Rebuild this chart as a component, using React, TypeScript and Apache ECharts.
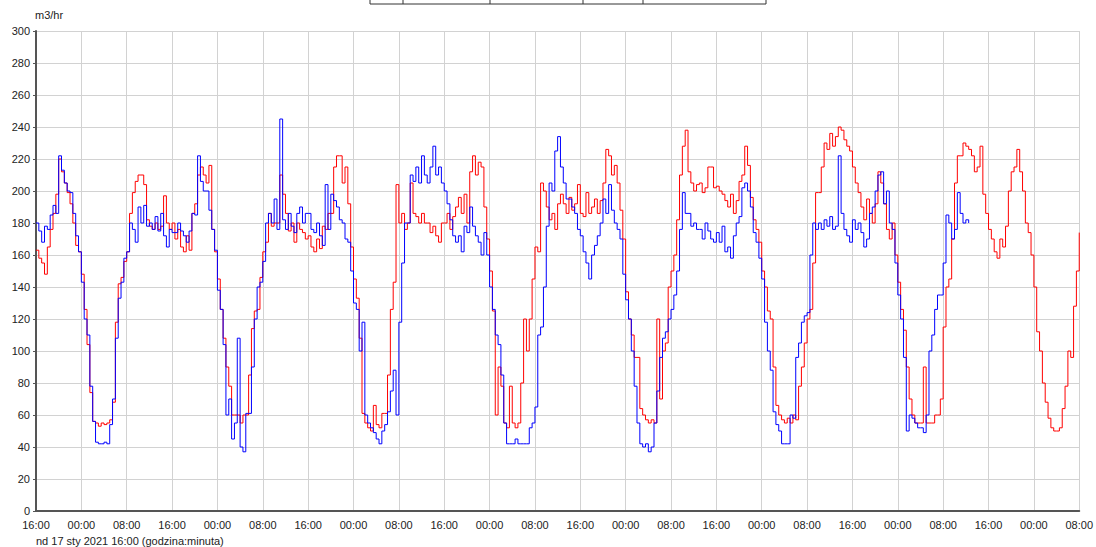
import { useEffect, useRef } from "react";
import * as echarts from "echarts";

// hours from Sun 17 Jan 2021 16:00, one value every 30 minutes
const STEP_HOURS = 0.5;
const X_MAX_HOURS = 184;
const X_TICK_HOURS = 8;

const xTickLabels = [
  "16:00", "00:00", "08:00", "16:00", "00:00", "08:00", "16:00", "00:00",
  "08:00", "16:00", "00:00", "08:00", "16:00", "00:00", "08:00", "16:00",
  "00:00", "08:00", "16:00", "00:00", "08:00", "16:00", "00:00", "08:00",
];

const yMin = 0;
const yMax = 300;
const yInterval = 20;
const yUnit = "m3/hr";
const xTitle = "nd 17 sty 2021 16:00 (godzina:minuta)";

// blue series (m3/hr), ends around 08:30 on the last day
const blueValues = [
  180, 175, 168, 178, 176, 185, 191, 186, 222, 213, 205, 200, 199, 186, 172, 162,
  143, 120, 110, 78, 56, 43, 42, 42, 43, 42, 54, 70, 108, 133, 143, 158,
  162, 180, 176, 168, 190, 180, 191, 178, 180, 176, 184, 175, 186, 172, 165, 176,
  174, 174, 180, 175, 172, 168, 175, 186, 185, 222, 206, 200, 200, 188, 176, 163,
  138, 126, 104, 60, 70, 45, 55, 108, 40, 37, 61, 61, 90, 120, 140, 143,
  156, 180, 186, 180, 195, 176, 245, 182, 176, 186, 178, 174, 186, 190, 180, 186,
  186, 176, 174, 180, 172, 166, 204, 176, 198, 194, 190, 182, 180, 170, 168, 150,
  130, 126, 100, 118, 60, 55, 52, 49, 45, 42, 50, 54, 62, 75, 88, 60,
  118, 155, 180, 180, 210, 206, 215, 205, 222, 210, 205, 215, 228, 210, 215, 205,
  200, 192, 182, 172, 168, 172, 162, 178, 174, 190, 178, 172, 168, 160, 174, 160,
  140, 126, 110, 104, 85, 55, 42, 42, 42, 45, 42, 42, 42, 42, 52, 55,
  65, 110, 115, 140, 178, 205, 200, 225, 234, 215, 205, 195, 195, 190, 186, 176,
  172, 162, 155, 145, 160, 166, 172, 180, 195, 186, 204, 188, 180, 176, 170, 148,
  132, 120, 100, 78, 55, 42, 40, 42, 37, 40, 55, 75, 96, 108, 112, 120,
  126, 135, 150, 176, 199, 186, 186, 178, 180, 176, 176, 170, 180, 175, 170, 168,
  174, 168, 178, 162, 165, 158, 172, 180, 184, 202, 205, 200, 190, 174, 168, 158,
  145, 118, 100, 88, 62, 54, 50, 42, 42, 42, 60, 58, 96, 105, 118, 122,
  124, 160, 180, 176, 180, 176, 182, 178, 184, 176, 178, 222, 186, 176, 172, 168,
  182, 176, 180, 174, 165, 170, 186, 190, 200, 210, 212, 192, 200, 180, 176, 155,
  135, 120, 96, 50, 60, 58, 55, 52, 52, 49, 60, 100, 110, 126, 135, 135,
  155, 185, 180, 170, 176, 199, 186, 180, 182, 180,
];

// red series (m3/hr)
const redValues = [
  163, 158, 155, 148, 165, 176, 186, 198, 220, 212, 205, 199, 192, 180, 166, 162,
  148, 126, 104, 74, 56, 55, 53, 55, 54, 55, 57, 68, 118, 142, 146, 156,
  162, 186, 199, 206, 210, 210, 204, 182, 178, 176, 180, 176, 178, 197, 180, 176,
  180, 170, 176, 165, 162, 172, 163, 186, 192, 210, 215, 210, 205, 216, 176, 162,
  145, 126, 108, 90, 78, 60, 60, 60, 55, 60, 60, 85, 114, 125, 126, 146,
  162, 168, 186, 178, 180, 180, 210, 198, 186, 175, 180, 168, 180, 176, 174, 170,
  172, 165, 162, 170, 164, 178, 176, 186, 186, 215, 222, 222, 205, 215, 192, 165,
  145, 133, 108, 61, 55, 52, 50, 66, 54, 52, 61, 61, 85, 126, 143, 204,
  180, 186, 176, 180, 205, 186, 184, 180, 186, 180, 180, 174, 178, 172, 168, 180,
  180, 186, 176, 184, 190, 196, 186, 198, 180, 212, 222, 210, 218, 215, 190, 170,
  150, 125, 60, 90, 78, 55, 52, 78, 55, 52, 55, 80, 120, 100, 120, 145,
  165, 162, 205, 200, 190, 182, 186, 176, 192, 198, 192, 186, 196, 188, 192, 204,
  186, 184, 199, 186, 190, 195, 186, 194, 205, 226, 222, 210, 216, 205, 188, 170,
  137, 120, 110, 96, 96, 64, 60, 57, 55, 57, 55, 120, 70, 100, 105, 140,
  150, 160, 182, 210, 228, 238, 212, 205, 200, 204, 205, 199, 202, 215, 215, 202,
  203, 200, 198, 194, 190, 198, 186, 194, 206, 210, 228, 216, 196, 182, 176, 168,
  150, 140, 125, 120, 90, 66, 60, 57, 55, 58, 55, 60, 57, 78, 90, 105,
  120, 126, 155, 199, 199, 215, 230, 226, 236, 228, 234, 240, 238, 232, 228, 225,
  215, 205, 199, 190, 182, 195, 186, 180, 192, 212, 205, 192, 176, 170, 180, 160,
  143, 126, 113, 90, 70, 60, 55, 55, 55, 90, 55, 55, 55, 60, 60, 70,
  115, 140, 145, 170, 205, 222, 222, 230, 228, 226, 222, 212, 215, 228, 198, 186,
  176, 170, 162, 158, 170, 165, 178, 200, 212, 215, 226, 212, 200, 180, 174, 160,
  140, 112, 100, 80, 68, 58, 52, 50, 50, 52, 64, 78, 100, 96, 128, 150,
  174,
];

const FONT = "'Liberation Sans', Arial, sans-serif";

export default function App() {
  const ref = useRef<HTMLDivElement>(null);

  useEffect(() => {
    if (!ref.current) return;
    const chart = echarts.init(ref.current, null, { renderer: "svg" });
    const toPairs = (arr: number[]) => arr.map((v, i) => [i * STEP_HOURS, v]);

    chart.setOption({
      animation: false,
      backgroundColor: "#ffffff",
      textStyle: { fontFamily: FONT },
      grid: { left: 36, right: 13, top: 31, bottom: 36, containLabel: false },
      xAxis: {
        type: "value",
        min: 0,
        max: X_MAX_HOURS,
        interval: X_TICK_HOURS,
        axisLine: { show: true, lineStyle: { color: "#555555", width: 2 } },
        axisTick: { show: false },
        splitLine: { show: true, lineStyle: { color: "#d2d2d2", width: 1 } },
        axisLabel: {
          color: "#222222",
          fontSize: 11,
          fontFamily: FONT,
          margin: 8,
          formatter: (v: number) => xTickLabels[Math.round(v / X_TICK_HOURS)] ?? "",
        },
      },
      yAxis: {
        type: "value",
        min: yMin,
        max: yMax,
        interval: yInterval,
        axisLine: { show: true, lineStyle: { color: "#555555", width: 2 } },
        axisTick: { show: true, length: 3, lineStyle: { color: "#555555" } },
        splitLine: { show: true, lineStyle: { color: "#d2d2d2", width: 1 } },
        axisLabel: { color: "#222222", fontSize: 11, fontFamily: FONT, margin: 6 },
      },
      series: [
        {
          type: "line",
          name: "red",
          data: toPairs(redValues),
          step: "end",
          symbol: "none",
          silent: true,
          lineStyle: { color: "#ff0000", width: 1 },
          itemStyle: { color: "#ff0000" },
        },
        {
          type: "line",
          name: "blue",
          data: toPairs(blueValues),
          step: "end",
          symbol: "none",
          silent: true,
          lineStyle: { color: "#0000ff", width: 1 },
          itemStyle: { color: "#0000ff" },
        },
      ],
      graphic: [
        {
          type: "text",
          left: 35,
          top: 9,
          style: { text: yUnit, fill: "#222222", font: `11px ${FONT}` },
        },
        {
          type: "text",
          left: 36,
          top: 535,
          style: { text: xTitle, fill: "#222222", font: `11px ${FONT}` },
        },
        {
          type: "polyline",
          shape: { points: [[370, 0], [370, 4], [766, 4], [766, 0]] },
          style: { stroke: "#333333", lineWidth: 1, fill: "none" },
        },
        { type: "line", shape: { x1: 403, y1: 0, x2: 403, y2: 4 }, style: { stroke: "#333333", lineWidth: 1 } },
        { type: "line", shape: { x1: 490, y1: 0, x2: 490, y2: 4 }, style: { stroke: "#333333", lineWidth: 1 } },
        { type: "line", shape: { x1: 583, y1: 0, x2: 583, y2: 4 }, style: { stroke: "#333333", lineWidth: 1 } },
        { type: "line", shape: { x1: 643, y1: 0, x2: 643, y2: 4 }, style: { stroke: "#333333", lineWidth: 1 } },
      ],
    });

    return () => chart.dispose();
  }, []);

  return (
    <div
      ref={ref}
      style={{ position: "absolute", left: 0, top: 0, width: 1096, height: 547 }}
    />
  );
}
